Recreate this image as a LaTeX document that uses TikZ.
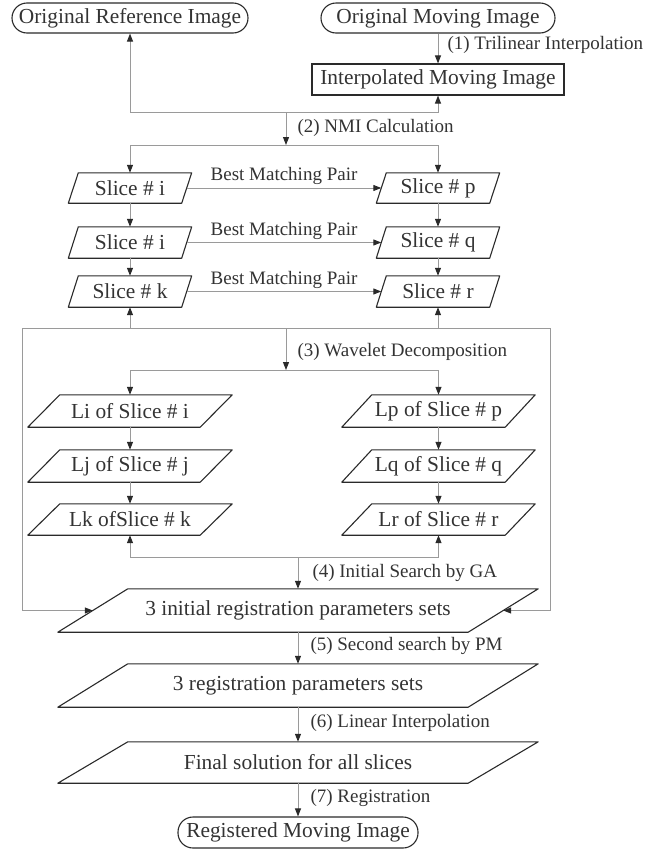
\documentclass[tikz,border=0pt]{standalone}
\usepackage{fontspec}
\setmainfont{Liberation Serif}
\usetikzlibrary{arrows.meta}
\definecolor{txt}{HTML}{333333}
\definecolor{edgec}{HTML}{2A2A2A}
\definecolor{connc}{HTML}{9A9A9A}
\tikzset{
  box/.style={draw=edgec, line width=1.1pt, text=txt, inner sep=0pt, font=\fontsize{21.4}{24}\selectfont},
  term/.style={box, rounded corners=15pt, minimum height=30pt},
  pnode/.style={inner sep=0pt, text=txt, font=\fontsize{21.4}{24}\selectfont},
  pline/.style={draw=edgec, line width=1.1pt, line join=round},
  cn/.style={draw=connc, line width=1pt, -{Triangle[length=8pt,width=6pt,color=edgec]}},
  cl/.style={draw=connc, line width=1pt},
  lab/.style={text=txt, font=\fontsize{19}{22}\selectfont, inner sep=0pt, anchor=west},
}
\newcommand\mkpara[7]{%
  \node[pnode, minimum width=#4pt, minimum height=#5pt] (#1) at (#2,#3) {#7};
  \draw[pline] (#1.south west) -- ([xshift=#6pt]#1.north west) -- (#1.north east) -- ([xshift=-#6pt]#1.south east) -- cycle;}
\begin{document}
\begin{tikzpicture}[x=1pt,y=-1pt]
\useasboundingbox (0,0) rectangle (649,849);
% top
\node[term, minimum width=236pt] (orr) at (130,18) {Original Reference Image};
\node[term, minimum width=234pt] (omi) at (438,18) {Original Moving Image};
\node[box, minimum width=252pt, minimum height=31pt] (imi) at (438,79.5) {Interpolated Moving Image};
\draw[cn] (omi.south) -- node[lab, pos=0.38, xshift=9pt]{(1) Trilinear Interpolation} (imi.north);
\coordinate (j1) at (286,112);
\coordinate (j2) at (286,145);
\draw[cn] (j1) -| (orr.south);
\draw[cn] (j1) -| (imi.south);
\draw[cn] (j1) -- node[lab, pos=0.47, xshift=11pt]{(2) NMI Calculation} (j2);
% slices
\mkpara{si1}{130}{188}{123}{30}{10}{Slice \# i}
\mkpara{si2}{130}{242.5}{123}{31}{10}{Slice \# i}
\mkpara{sk}{130}{291.5}{123}{31}{10}{Slice \# k}
\mkpara{sp}{438}{188}{123}{30}{10}{Slice \# p}
\mkpara{sq}{438}{242.5}{123}{31}{10}{Slice \# q}
\mkpara{sr}{438}{291.5}{123}{31}{10}{Slice \# r}
\draw[cn] (j2) -| (si1.north);
\draw[cn] (j2) -| (sp.north);
\draw[cn] (si1.south) -- (si2.north);
\draw[cn] (si2.south) -- (sk.north);
\draw[cn] (sp.south) -- (sq.north);
\draw[cn] (sq.south) -- (sr.north);
\draw[cn] ([xshift=-5pt]si1.east) -- node[lab, anchor=south, yshift=2.5pt]{Best Matching Pair} ([xshift=5pt]sp.west);
\draw[cn] ([xshift=-5pt]si2.east) -- node[lab, anchor=south, yshift=2.5pt]{Best Matching Pair} ([xshift=5pt]sq.west);
\draw[cn] ([xshift=-5pt]sk.east) -- node[lab, anchor=south, yshift=2.5pt]{Best Matching Pair} ([xshift=5pt]sr.west);
% bus 1
\coordinate (bl) at (22,328);
\coordinate (br) at (550,328);
\coordinate (w0) at (286,328);
\coordinate (w1) at (286,370);
\draw[cl] (bl) -- (br);
\draw[cn] (w0) -| (sk.south);
\draw[cn] (w0) -| (sr.south);
\draw[cn] (w0) -- node[lab, pos=0.57, xshift=11pt]{(3) Wavelet Decomposition} (w1);
% L nodes
\mkpara{li}{130}{411}{204}{32}{32}{Li of Slice \# i}
\mkpara{lj}{130}{466}{204}{32}{32}{Lj of Slice \# j}
\mkpara{lk}{130}{519.5}{204}{31}{32}{Lk ofSlice \# k}
\mkpara{lp}{438.5}{411}{193}{32}{30}{Lp of Slice \# p}
\mkpara{lq}{438.5}{466}{193}{32}{30}{Lq of Slice \# q}
\mkpara{lr}{438.5}{519.5}{193}{31}{30}{Lr of Slice \# r}
\draw[cn] (w1) -| (li.north);
\draw[cn] (w1) -| (lp.north);
\draw[cn] (li.south) -- (lj.north);
\draw[cn] (lj.south) -- (lk.north);
\draw[cn] (lp.south) -- (lq.north);
\draw[cn] (lq.south) -- (lr.north);
% bus 2
\coordinate (g0) at (298,557);
\draw[cn] (g0) -| (lk.south);
\draw[cn] (g0) -| (lr.south);
% bottom chain
\mkpara{b1}{298}{610.5}{480}{43}{70}{3 initial registration parameters sets}
\mkpara{b2}{298}{685.5}{480}{43}{70}{3 registration parameters sets}
\mkpara{b3}{298}{762.5}{480}{41}{70}{Final solution for all slices}
\node[term, minimum width=240pt, minimum height=31pt] (reg) at (298,832.5) {Registered Moving Image};
\draw[cn] (g0) -- node[lab, pos=0.5, xshift=14pt]{(4) Initial Search by GA} (b1.north);
\draw[cn] (bl) |- ([xshift=35pt]b1.west);
\draw[cn] (br) |- ([xshift=-35pt]b1.east);
\draw[cn] (b1.south) -- node[lab, pos=0.42, xshift=12pt]{(5) Second search by PM} (b2.north);
\draw[cn] (b2.south) -- node[lab, pos=0.45, xshift=12pt]{(6) Linear Interpolation} (b3.north);
\draw[cn] (b3.south) -- node[lab, pos=0.45, xshift=12pt]{(7) Registration} (reg.north);
\end{tikzpicture}
\end{document}
